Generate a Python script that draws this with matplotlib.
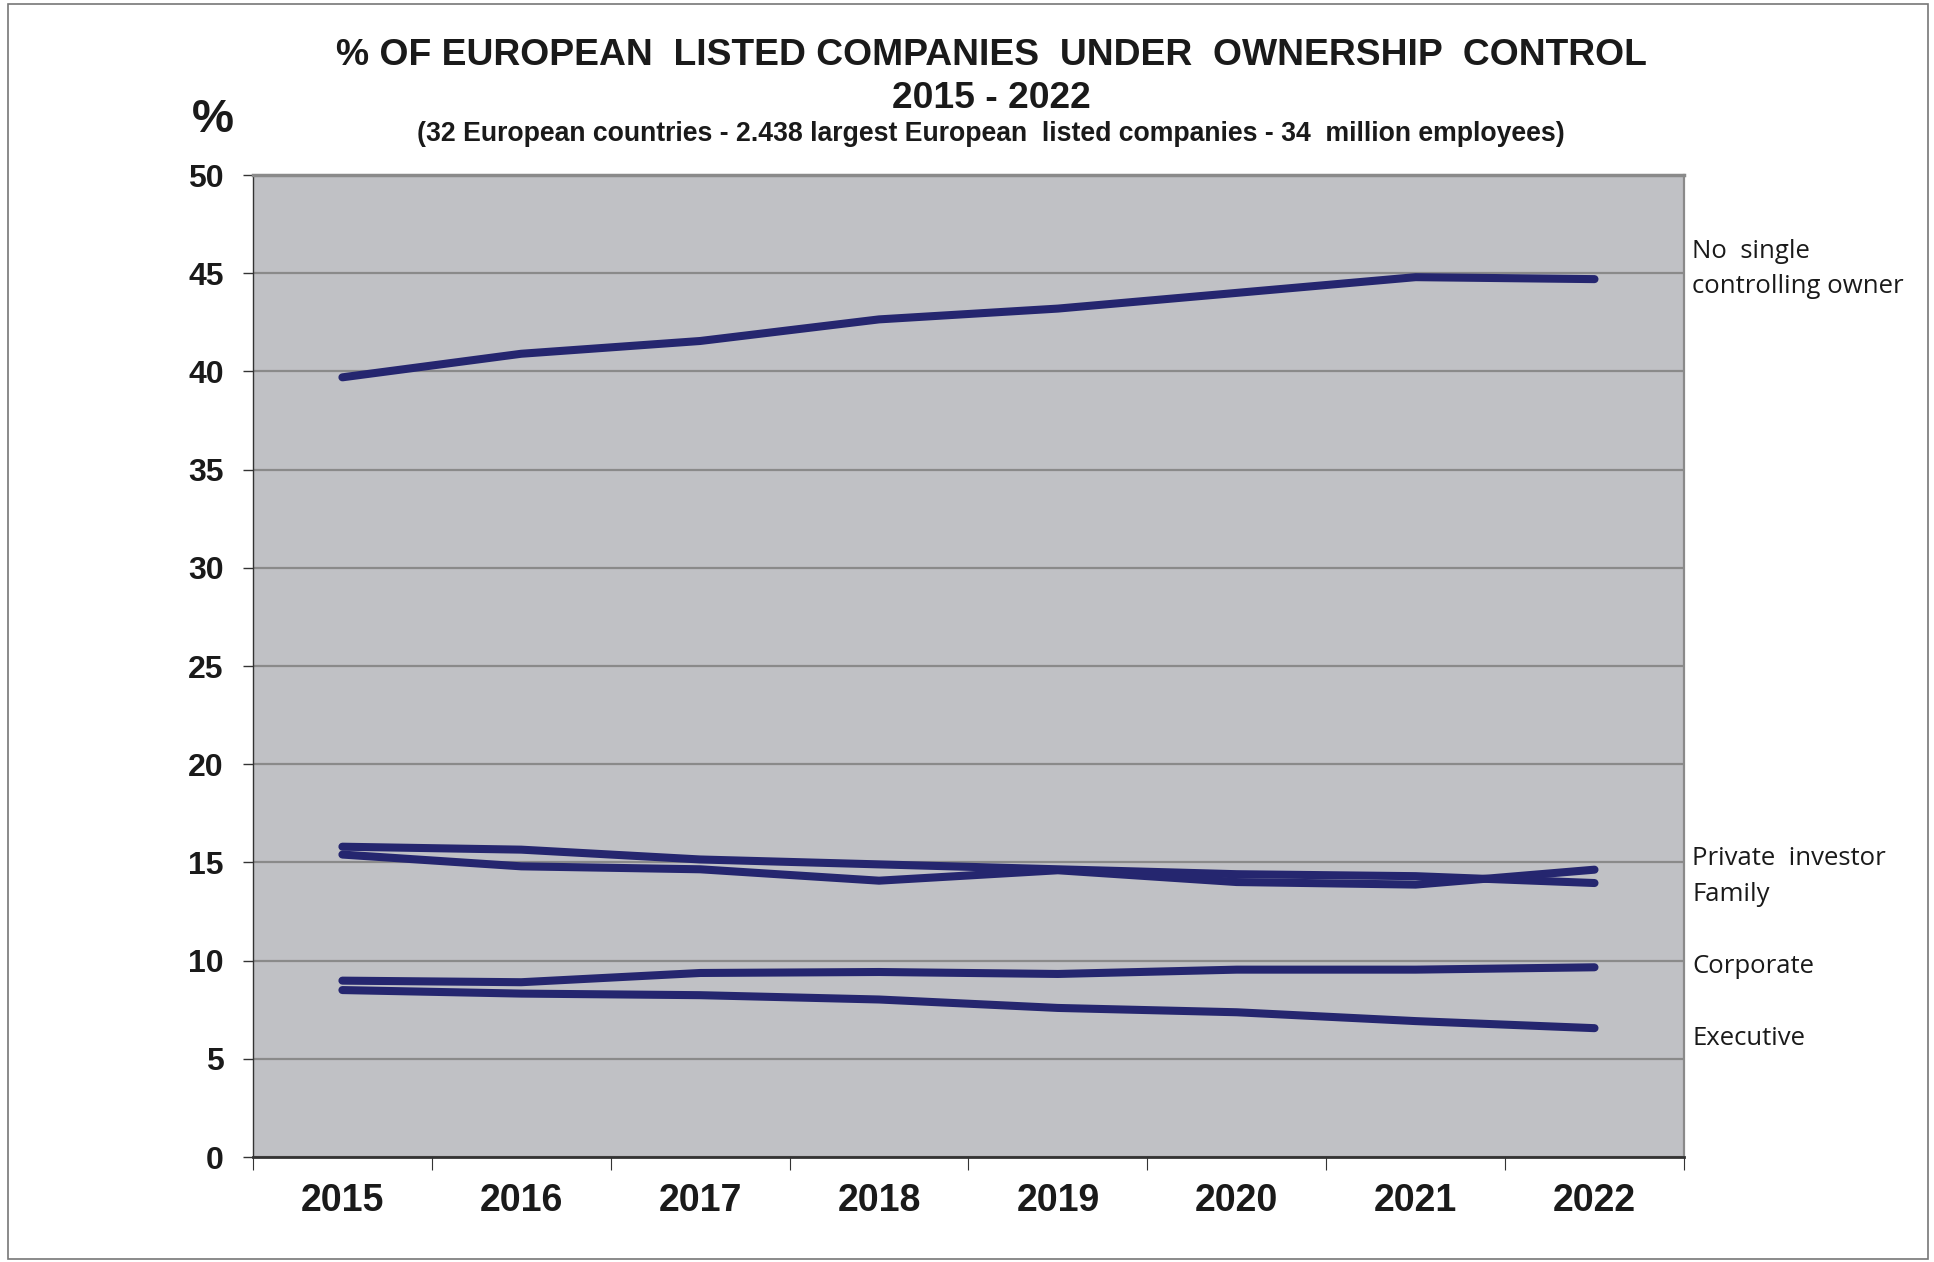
import matplotlib
matplotlib.use("Agg")
import matplotlib.pyplot as plt
from matplotlib.patches import Rectangle

years = ["2015", "2016", "2017", "2018", "2019", "2020", "2021", "2022"]
no_single_owner = [39.7, 40.9, 41.55, 42.65, 43.2, 44.0, 44.8, 44.7]
family = [15.8, 15.65, 15.15, 14.9, 14.65, 14.4, 14.3, 13.95]
private_investor = [15.4, 14.8, 14.65, 14.07, 14.6, 14.0, 13.87, 14.63]
corporate = [8.98, 8.9, 9.37, 9.42, 9.32, 9.54, 9.54, 9.66]
executive = [8.5, 8.32, 8.24, 8.02, 7.59, 7.37, 6.92, 6.56]

series = [no_single_owner, family, private_investor, corporate, executive]

labels = [("No  single", 46.1), ("controlling owner", 44.3),
          ("Private  investor", 15.2), ("Family", 13.35),
          ("Corporate", 9.7), ("Executive", 6.05)]

line_color = "#25266f"
bg = "#c0c1c5"

fig = plt.figure(figsize=(19.34, 12.62), dpi=100)
ax = fig.add_axes([0.1308, 0.0832, 0.8707 - 0.1308, 0.8613 - 0.0832])
ax.set_facecolor(bg)

x = list(range(len(years)))
for s in series:
    ax.plot(x, s, color=line_color, lw=5.8, solid_capstyle="round", zorder=3)

ax.set_xlim(-0.5, len(years) - 0.5)
ax.set_ylim(0, 50)
ax.set_yticks(range(0, 51, 5))
ax.yaxis.grid(True, color="#8a8a8a", lw=1.6, zorder=1)
ax.set_axisbelow(True)

ax.set_xticks(x)
ax.set_xticklabels(years)
ax.set_xticks([i - 0.5 for i in range(len(years) + 1)], minor=True)
ax.tick_params(axis="x", which="major", length=0, pad=19, labelsize=27)
ax.tick_params(axis="x", which="minor", length=9, width=0.8, color="#333333", direction="out")
ax.tick_params(axis="y", length=7, width=1.0, pad=14, labelsize=23, color="#333333")
for lab in ax.get_xticklabels() + ax.get_yticklabels():
    lab.set_fontweight("bold")
    lab.set_family("Liberation Sans")
    lab.set_color("#1a1a1a")

ax.spines["left"].set_color("#333333")
ax.spines["left"].set_linewidth(1.0)
ax.spines["bottom"].set_color("#333333")
ax.spines["bottom"].set_linewidth(2.0)
ax.spines["top"].set_color("#8a8a8a")
ax.spines["top"].set_linewidth(2.5)
ax.spines["right"].set_color("#8a8a8a")
ax.spines["right"].set_linewidth(1.6)

for txt, yv in labels:
    ax.annotate(txt, xy=(1, yv), xycoords=("axes fraction", "data"),
                xytext=(6, 0), textcoords="offset points",
                ha="left", va="center", fontsize=18.5, family="Open Sans",
                color="#1a1a1a", annotation_clip=False)

fig.text(0.5124, 0.9562, "% OF EUROPEAN  LISTED COMPANIES  UNDER  OWNERSHIP  CONTROL",
         ha="center", va="center", fontsize=26.8, fontweight="bold",
         family="Liberation Sans", color="#1a1a1a")
fig.text(0.5124, 0.9220, "2015 - 2022", ha="center", va="center", fontsize=26.8,
         fontweight="bold", family="Liberation Sans", color="#1a1a1a")
fig.text(0.5124, 0.8935,
         "(32 European countries - 2.438 largest European  listed companies - 34  million employees)",
         ha="center", va="center", fontsize=19.2, fontweight="bold",
         family="Liberation Sans", color="#1a1a1a")
fig.text(0.1103, 0.905, "%", ha="center", va="center", fontsize=34,
         fontweight="bold", family="Liberation Sans", color="#1a1a1a")

fig.patches.append(Rectangle((0.004, 0.002), 0.993, 0.995, transform=fig.transFigure,
                             fill=False, edgecolor="#777777", lw=1.2))

fig.savefig("out.png", dpi=100, facecolor="white")
